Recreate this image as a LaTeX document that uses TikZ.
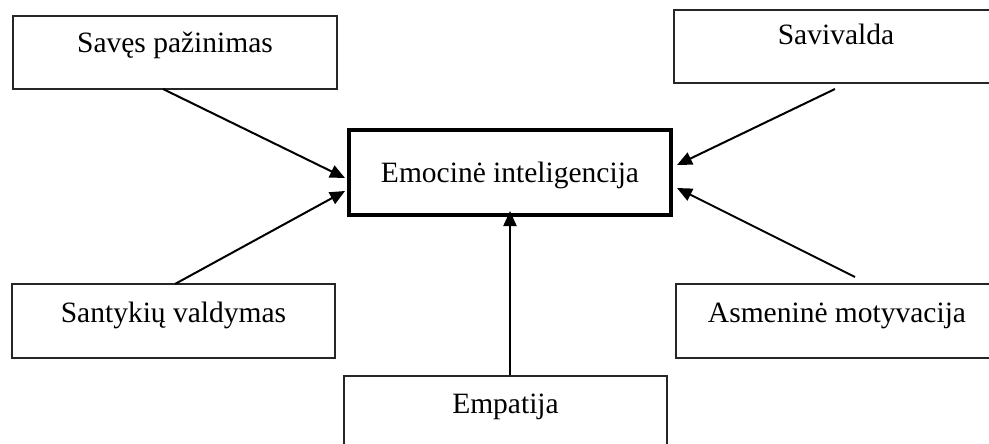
\documentclass[tikz,border=0pt]{standalone}
\usepackage{fontspec}
\setmainfont{Liberation Serif}
\usetikzlibrary{arrows.meta}
\begin{document}
\begin{tikzpicture}[x=1pt,y=-1pt,
  box/.style={draw=black!85,line width=1.2pt,rectangle,inner sep=0pt,fill=white,
    font=\fontsize{29.5}{34}\selectfont},
  mainbox/.style={box,draw=black,line width=4pt},
  conn/.style={line width=2pt,-{Triangle[length=15pt,width=13pt]}}]
\useasboundingbox (0,0) rectangle (989,444);
\begin{scope}
\clip (0,0) rectangle (989,444);
\node[box,minimum width=324pt,text height=37pt,text depth=36pt] (sp) at (175,52.5) {Savęs pažinimas};
\node[box,minimum width=324pt,text height=35pt,text depth=38pt] (sv) at (836,46.5) {Savivalda};
\node[mainbox,minimum width=322pt,text height=52pt,text depth=33pt] (em) at (510,172.5) {Emocinė inteligencija};
\node[box,minimum width=323pt,text height=38pt,text depth=36pt] (sa) at (173.5,321) {Santykių valdymas};
\node[box,minimum width=322pt,text height=38pt,text depth=36pt] (am) at (837,321) {Asmeninė motyvacija};
\node[box,minimum width=323pt,text height=37pt,text depth=37pt] (ep) at (505.5,413) {Empatija};
\end{scope}
\coordinate (a1s) at (163,89);
\coordinate (a1e) at (345,178);
\coordinate (a2s) at (175,284);
\coordinate (a2e) at (345,191);
\coordinate (a3s) at (835,89);
\coordinate (a3e) at (677,165);
\coordinate (a4s) at (855,277);
\coordinate (a4e) at (677,188);
\coordinate (a5e) at (510,211);
\draw[conn] (a1s) -- (a1e);
\draw[conn] (a2s) -- (a2e);
\draw[conn] (a3s) -- (a3e);
\draw[conn] (a4s) -- (a4e);
\draw[conn] (ep.north -| a5e) -- (a5e);
\end{tikzpicture}
\end{document}
